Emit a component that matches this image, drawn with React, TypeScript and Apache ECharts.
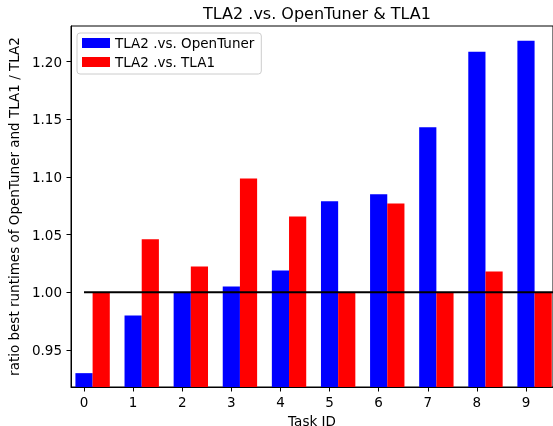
import React, { useEffect, useRef } from "react";
import * as echarts from "echarts";

const TASK_IDS = [0, 1, 2, 3, 4, 5, 6, 7, 8, 9];
const VS_OPENTUNER = [0.930, 0.980, 1.000, 1.005, 1.019, 1.079, 1.085, 1.143, 1.2085, 1.218];
const VS_TLA1 = [1.000, 1.046, 1.0225, 1.0986, 1.0657, 1.000, 1.077, 1.000, 1.018, 1.000];
const Y_TICKS = [0.95, 1.0, 1.05, 1.1, 1.15, 1.2];
const SERIES_NAMES = ["TLA2 .vs. OpenTuner", "TLA2 .vs. TLA1"];
const REF_LINE = 1.0;

const BAR_W = 0.35;
const X_MIN = -0.265;
const X_MAX = 9.55;
const Y_MIN = 0.918;
const Y_MAX = 1.2308;
const FONT = "DejaVu Sans";
const FS = 13.5;

function makeRender(offset: number) {
  return (params: any, api: any) => {
    const x = api.value(0) + offset;
    const v = api.value(1);
    const p1 = api.coord([x - BAR_W / 2, v]);
    const p2 = api.coord([x + BAR_W / 2, Y_MIN]);
    return {
      type: "rect",
      shape: { x: p1[0], y: p1[1], width: p2[0] - p1[0], height: p2[1] - p1[1] },
      style: { fill: api.visual("color") },
    };
  };
}

export default function App() {
  const ref = useRef<HTMLDivElement>(null);
  useEffect(() => {
    if (!ref.current) return;
    const chart = echarts.init(ref.current, null, { renderer: "svg" });
    chart.setOption({
      animation: false,
      title: {
        text: "TLA2 .vs. OpenTuner & TLA1",
        left: 312,
        textAlign: "center",
        top: 0,
        textStyle: { fontFamily: FONT, fontSize: 16, fontWeight: "normal", color: "#000" },
      },
      legend: {
        left: 77,
        top: 33,
        orient: "vertical",
        data: SERIES_NAMES,
        icon: "rect",
        itemWidth: 28,
        itemHeight: 10,
        itemGap: 5,
        padding: [3, 7, 5, 5],
        borderColor: "#ccc",
        borderWidth: 1,
        borderRadius: 3,
        backgroundColor: "rgba(255,255,255,0.8)",
        textStyle: { fontFamily: FONT, fontSize: FS, color: "#000" },
      },
      grid: {
        left: 71,
        right: 0,
        top: 26,
        bottom: 39,
        containLabel: false,
        outerBoundsMode: "none",
        show: true,
        borderColor: "#000",
        borderWidth: 1,
        backgroundColor: "transparent",
      },
      xAxis: {
        type: "value",
        min: X_MIN,
        max: X_MAX,
        name: "Task ID",
        nameLocation: "middle",
        nameGap: 20,
        nameTextStyle: { fontFamily: FONT, fontSize: FS, lineHeight: 14, color: "#000" },
        splitLine: { show: false },
        axisLine: { show: true, onZero: false, lineStyle: { color: "#000", width: 1 } },
        axisTick: { show: true, customValues: TASK_IDS, length: 4.5, lineStyle: { color: "#000" } },
        axisLabel: {
          customValues: TASK_IDS,
          fontFamily: FONT,
          fontSize: FS,
          color: "#000",
          margin: 8,
          formatter: (v: number) => String(v),
        },
      },
      yAxis: {
        type: "value",
        min: Y_MIN,
        max: Y_MAX,
        name: "ratio best runtimes of OpenTuner and TLA1 / TLA2",
        nameLocation: "middle",
        nameGap: 50,
        nameTextStyle: { fontFamily: FONT, fontSize: FS, color: "#000" },
        splitLine: { show: false },
        axisLine: { show: true, onZero: false, lineStyle: { color: "#000", width: 1 } },
        axisTick: { show: true, customValues: Y_TICKS, length: 4.5, lineStyle: { color: "#000" } },
        axisLabel: {
          customValues: Y_TICKS,
          fontFamily: FONT,
          fontSize: FS,
          color: "#000",
          margin: 9,
          formatter: (v: number) => v.toFixed(2),
        },
      },
      series: [
        {
          name: SERIES_NAMES[0],
          type: "custom",
          itemStyle: { color: "#0000ff" },
          renderItem: makeRender(0),
          data: TASK_IDS.map((t, i) => [t, VS_OPENTUNER[i]]),
          encode: { x: 0, y: 1 },
          z: 2,
        },
        {
          name: SERIES_NAMES[1],
          type: "custom",
          itemStyle: { color: "#ff0000" },
          renderItem: makeRender(BAR_W),
          data: TASK_IDS.map((t, i) => [t, VS_TLA1[i]]),
          encode: { x: 0, y: 1 },
          z: 2,
        },
        {
          type: "line",
          data: [[TASK_IDS[0], REF_LINE], [X_MAX + 1, REF_LINE]],
          symbol: "none",
          lineStyle: { color: "#000", width: 2 },
          clip: true,
          silent: true,
          z: 3,
        },
      ],
    });
    return () => chart.dispose();
  }, []);
  return <div ref={ref} style={{ position: "fixed", left: 0, top: 0, width: 553, height: 426 }} />;
}
